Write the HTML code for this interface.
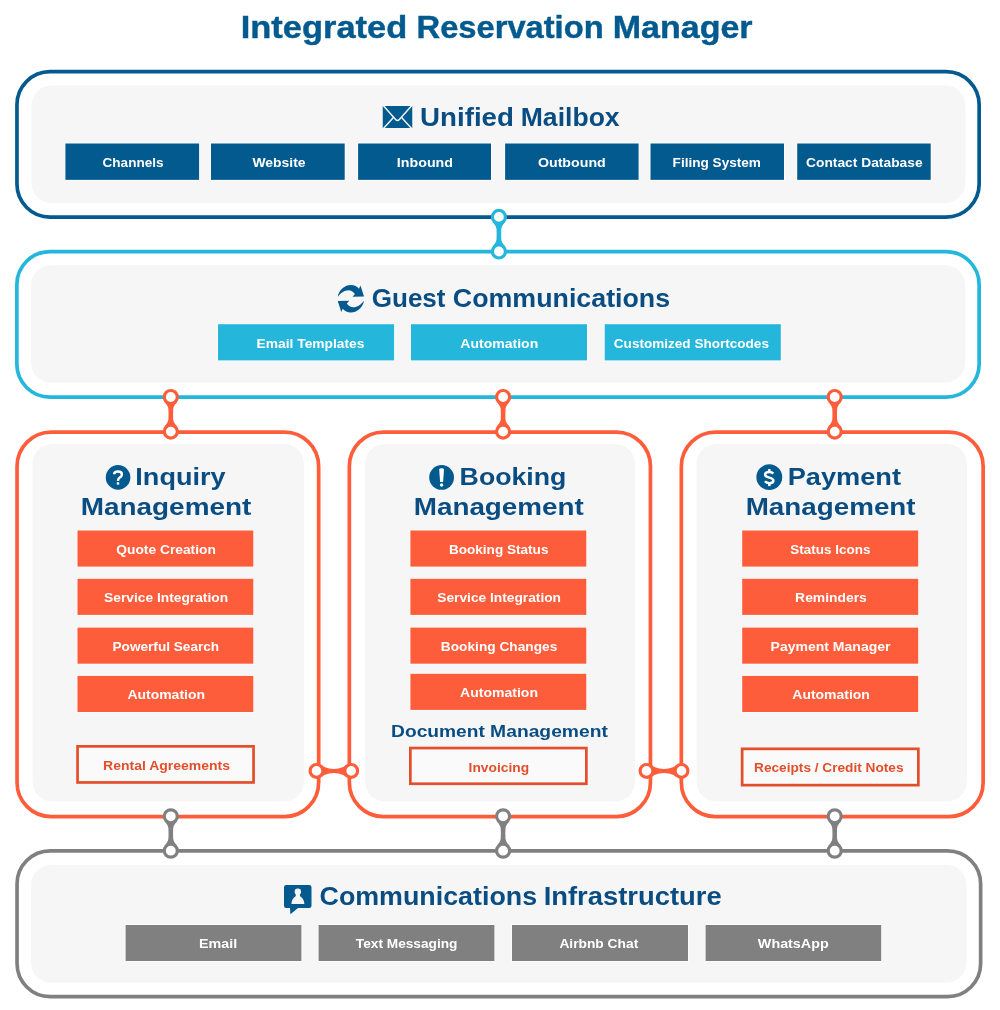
<!DOCTYPE html>
<html lang="en">
<head>
<meta charset="utf-8">
<title>Integrated Reservation Manager</title>
<style>
html,body{margin:0;padding:0;background:#fff;}
body{width:1000px;height:1010px;overflow:hidden;font-family:"Liberation Sans",sans-serif;}
svg{display:block;will-change:transform;}
text{font-family:"Liberation Sans",sans-serif;}
.b{font-weight:700;}
</style>
</head>
<body>
<svg width="1000" height="1010" viewBox="0 0 1000 1010">
<rect width="1000" height="1010" fill="#fff"/>
<text class="b" x="240.77" y="37.50" font-size="30.5" fill="#025a8f" stroke="#025a8f" stroke-width="0.4" textLength="166.41" lengthAdjust="spacingAndGlyphs">Integrated</text>
<text class="b" x="416.55" y="37.50" font-size="30.5" fill="#025a8f" stroke="#025a8f" stroke-width="0.4" textLength="187.06" lengthAdjust="spacingAndGlyphs">Reservation</text>
<text class="b" x="612.77" y="37.50" font-size="30.5" fill="#025a8f" stroke="#025a8f" stroke-width="0.4" textLength="139.84" lengthAdjust="spacingAndGlyphs">Manager</text>
<rect x="16.95" y="71.65" width="962.20" height="145.50" rx="33.15" fill="#fff" stroke="#025a8f" stroke-width="3.7"/>
<rect x="31.50" y="85.50" width="934.00" height="117.50" rx="20" fill="#f6f6f6"/>
<g><rect x="382.75" y="106" width="29.5" height="22" fill="#025a8f"/><path d="M383.2,105.6 L395.6,119.4 Q397.5,121.5 399.4,119.4 L411.8,105.6" fill="none" stroke="#f6f6f6" stroke-width="1.45" stroke-linejoin="round"/><path d="M383.4,128.6 L393.4,117.6 M411.6,128.6 L401.6,117.6" fill="none" stroke="#f6f6f6" stroke-width="1.45"/></g>
<text class="b" x="420.13" y="125.70" font-size="24.9" fill="#0a4d83" textLength="93.80" lengthAdjust="spacingAndGlyphs">Unified</text>
<text class="b" x="520.73" y="125.70" font-size="24.9" fill="#0a4d83" textLength="98.95" lengthAdjust="spacingAndGlyphs">Mailbox</text>
<rect x="65.40" y="143.50" width="133.70" height="36.35" fill="#025a8f" stroke="#fff" stroke-opacity=".75" stroke-width="1.8" paint-order="stroke"/>
<rect x="211.00" y="143.50" width="133.70" height="36.35" fill="#025a8f" stroke="#fff" stroke-opacity=".75" stroke-width="1.8" paint-order="stroke"/>
<rect x="358.10" y="143.50" width="132.90" height="36.35" fill="#025a8f" stroke="#fff" stroke-opacity=".75" stroke-width="1.8" paint-order="stroke"/>
<rect x="505.10" y="143.50" width="133.50" height="36.35" fill="#025a8f" stroke="#fff" stroke-opacity=".75" stroke-width="1.8" paint-order="stroke"/>
<rect x="650.50" y="143.50" width="133.50" height="36.35" fill="#025a8f" stroke="#fff" stroke-opacity=".75" stroke-width="1.8" paint-order="stroke"/>
<rect x="797.20" y="143.50" width="133.50" height="36.35" fill="#025a8f" stroke="#fff" stroke-opacity=".75" stroke-width="1.8" paint-order="stroke"/>
<text class="b" x="102.57" y="167.00" font-size="13.5" fill="#fff" textLength="60.99" lengthAdjust="spacingAndGlyphs">Channels</text>
<text class="b" x="252.41" y="167.00" font-size="13.5" fill="#fff" textLength="53.16" lengthAdjust="spacingAndGlyphs">Website</text>
<text class="b" x="396.81" y="167.00" font-size="13.5" fill="#fff" textLength="56.25" lengthAdjust="spacingAndGlyphs">Inbound</text>
<text class="b" x="537.93" y="167.00" font-size="13.5" fill="#fff" textLength="67.81" lengthAdjust="spacingAndGlyphs">Outbound</text>
<text class="b" x="672.64" y="167.00" font-size="13.5" fill="#fff" textLength="88.31" lengthAdjust="spacingAndGlyphs">Filing System</text>
<text class="b" x="806.01" y="167.00" font-size="13.5" fill="#fff" textLength="116.63" lengthAdjust="spacingAndGlyphs">Contact Database</text>
<rect x="16.85" y="251.55" width="962.30" height="145.60" rx="33.15" fill="#fff" stroke="#25b7db" stroke-width="3.7"/>
<rect x="31.00" y="265.30" width="934.30" height="117.20" rx="20" fill="#f6f6f6"/>
<g transform="translate(330,278) scale(0.05)" fill="#025a8f"><path d="M155,375 C178,235 300,138 420,140 C485,141 545,170 580,215 L610,150 L680,370 L450,375 L500,320 C460,270 420,243 370,243 C290,243 210,300 155,375 Z"/><path d="M155,375 C178,235 300,138 420,140 C485,141 545,170 580,215 L610,150 L680,370 L450,375 L500,320 C460,270 420,243 370,243 C290,243 210,300 155,375 Z" transform="rotate(180 417.5 415)"/></g>
<text class="b" x="371.74" y="306.60" font-size="24.9" fill="#0a4d83" textLength="73.78" lengthAdjust="spacingAndGlyphs">Guest</text>
<text class="b" x="452.86" y="306.60" font-size="24.9" fill="#0a4d83" textLength="217.26" lengthAdjust="spacingAndGlyphs">Communications</text>
<rect x="218.00" y="324.20" width="176.10" height="36.20" fill="#25b7db" stroke="#fff" stroke-opacity=".75" stroke-width="1.8" paint-order="stroke"/>
<rect x="411.00" y="324.20" width="176.00" height="36.20" fill="#25b7db" stroke="#fff" stroke-opacity=".75" stroke-width="1.8" paint-order="stroke"/>
<rect x="604.70" y="324.20" width="176.10" height="36.20" fill="#25b7db" stroke="#fff" stroke-opacity=".75" stroke-width="1.8" paint-order="stroke"/>
<text class="b" x="256.63" y="347.75" font-size="13.5" fill="#fff" textLength="107.79" lengthAdjust="spacingAndGlyphs">Email Templates</text>
<text class="b" x="460.30" y="347.75" font-size="13.5" fill="#fff" textLength="77.94" lengthAdjust="spacingAndGlyphs">Automation</text>
<text class="b" x="613.83" y="347.75" font-size="13.5" fill="#fff" textLength="155.13" lengthAdjust="spacingAndGlyphs">Customized Shortcodes</text>
<rect x="17.05" y="432.15" width="301.60" height="384.50" rx="34.15" fill="#fff" stroke="#fe5d3b" stroke-width="3.7"/>
<rect x="32.50" y="444.00" width="271.50" height="357.50" rx="20" fill="#f6f6f6"/>
<rect x="349.35" y="432.15" width="301.10" height="384.50" rx="34.15" fill="#fff" stroke="#fe5d3b" stroke-width="3.7"/>
<rect x="365.00" y="444.00" width="270.00" height="357.50" rx="20" fill="#f6f6f6"/>
<rect x="681.35" y="432.15" width="301.80" height="384.50" rx="34.15" fill="#fff" stroke="#fe5d3b" stroke-width="3.7"/>
<rect x="696.50" y="444.00" width="270.50" height="357.50" rx="20" fill="#f6f6f6"/>
<circle cx="118.05" cy="477.4" r="12.3" fill="#025a8f"/>
<path d="M114.1,474.3 C114.1,472.3 115.8,471.5 118,471.5 C120.3,471.5 121.9,472.6 121.9,474.4 C121.9,476 120.8,476.7 119.6,477.6 C118.5,478.4 118,479 118,481" fill="none" stroke="#fff" stroke-width="2.4"/><rect x="116.75" y="482.3" width="2.5" height="2.3" fill="#fff"/>
<text class="b" x="135.35" y="485.10" font-size="24.0" fill="#0a4d83" textLength="90.19" lengthAdjust="spacingAndGlyphs">Inquiry</text>
<text class="b" x="80.76" y="514.70" font-size="24.0" fill="#0a4d83" textLength="170.56" lengthAdjust="spacingAndGlyphs">Management</text>
<circle cx="441.6" cy="477.4" r="12.4" fill="#025a8f"/>
<path d="M439.2,469.6 Q439.2,468.2 441.6,468.2 Q444,468.2 444,469.6 L443.1,482 L440.1,482 Z" fill="#fff"/><circle cx="441.6" cy="485" r="1.7" fill="#fff"/>
<text class="b" x="459.63" y="485.10" font-size="24.0" fill="#0a4d83" textLength="106.66" lengthAdjust="spacingAndGlyphs">Booking</text>
<text class="b" x="413.77" y="514.70" font-size="24.0" fill="#0a4d83" textLength="170.01" lengthAdjust="spacingAndGlyphs">Management</text>
<circle cx="769.3" cy="477.2" r="12.9" fill="#025a8f"/>
<path d="M773.3,473.7 C772.3,472.6 771,472.1 769.3,472.1 C766.8,472.1 765.1,473.2 765.1,474.8 C765.1,476.6 767,477.1 769.3,477.6 C771.8,478.2 773.4,478.8 773.4,480.5 C773.4,482.2 771.8,483.2 769.4,483.2 C767.5,483.2 766,482.6 764.9,481.3" fill="none" stroke="#fff" stroke-width="2.5"/><rect x="768.1" y="469" width="2.5" height="2.6" fill="#fff"/><rect x="768.1" y="483.6" width="2.5" height="2.5" fill="#fff"/>
<text class="b" x="787.68" y="485.10" font-size="24.0" fill="#0a4d83" textLength="113.30" lengthAdjust="spacingAndGlyphs">Payment</text>
<text class="b" x="745.65" y="514.70" font-size="24.0" fill="#0a4d83" textLength="169.95" lengthAdjust="spacingAndGlyphs">Management</text>
<rect x="77.50" y="530.50" width="175.80" height="36.10" fill="#fe5d3b" stroke="#fff" stroke-opacity=".75" stroke-width="1.8" paint-order="stroke"/>
<text class="b" x="116.29" y="554.00" font-size="13.5" fill="#fff" textLength="99.59" lengthAdjust="spacingAndGlyphs">Quote Creation</text>
<rect x="77.50" y="578.80" width="175.80" height="36.10" fill="#fe5d3b" stroke="#fff" stroke-opacity=".75" stroke-width="1.8" paint-order="stroke"/>
<text class="b" x="104.04" y="602.30" font-size="13.5" fill="#fff" textLength="124.08" lengthAdjust="spacingAndGlyphs">Service Integration</text>
<rect x="77.50" y="627.60" width="175.80" height="36.10" fill="#fe5d3b" stroke="#fff" stroke-opacity=".75" stroke-width="1.8" paint-order="stroke"/>
<text class="b" x="112.56" y="651.10" font-size="13.5" fill="#fff" textLength="106.59" lengthAdjust="spacingAndGlyphs">Powerful Search</text>
<rect x="77.50" y="675.90" width="175.80" height="36.10" fill="#fe5d3b" stroke="#fff" stroke-opacity=".75" stroke-width="1.8" paint-order="stroke"/>
<text class="b" x="127.43" y="699.40" font-size="13.5" fill="#fff" textLength="77.55" lengthAdjust="spacingAndGlyphs">Automation</text>
<rect x="410.40" y="530.50" width="175.90" height="36.10" fill="#fe5d3b" stroke="#fff" stroke-opacity=".75" stroke-width="1.8" paint-order="stroke"/>
<text class="b" x="448.93" y="554.00" font-size="13.5" fill="#fff" textLength="99.54" lengthAdjust="spacingAndGlyphs">Booking Status</text>
<rect x="410.40" y="578.80" width="175.90" height="36.10" fill="#fe5d3b" stroke="#fff" stroke-opacity=".75" stroke-width="1.8" paint-order="stroke"/>
<text class="b" x="437.25" y="602.30" font-size="13.5" fill="#fff" textLength="123.76" lengthAdjust="spacingAndGlyphs">Service Integration</text>
<rect x="410.40" y="627.60" width="175.90" height="36.10" fill="#fe5d3b" stroke="#fff" stroke-opacity=".75" stroke-width="1.8" paint-order="stroke"/>
<text class="b" x="440.86" y="651.10" font-size="13.5" fill="#fff" textLength="116.39" lengthAdjust="spacingAndGlyphs">Booking Changes</text>
<rect x="410.40" y="673.80" width="175.90" height="36.10" fill="#fe5d3b" stroke="#fff" stroke-opacity=".75" stroke-width="1.8" paint-order="stroke"/>
<text class="b" x="460.11" y="697.30" font-size="13.5" fill="#fff" textLength="77.87" lengthAdjust="spacingAndGlyphs">Automation</text>
<rect x="742.20" y="530.50" width="176.00" height="36.10" fill="#fe5d3b" stroke="#fff" stroke-opacity=".75" stroke-width="1.8" paint-order="stroke"/>
<text class="b" x="790.36" y="554.00" font-size="13.5" fill="#fff" textLength="80.05" lengthAdjust="spacingAndGlyphs">Status Icons</text>
<rect x="742.20" y="578.80" width="176.00" height="36.10" fill="#fe5d3b" stroke="#fff" stroke-opacity=".75" stroke-width="1.8" paint-order="stroke"/>
<text class="b" x="795.11" y="602.30" font-size="13.5" fill="#fff" textLength="71.70" lengthAdjust="spacingAndGlyphs">Reminders</text>
<rect x="742.20" y="627.60" width="176.00" height="36.10" fill="#fe5d3b" stroke="#fff" stroke-opacity=".75" stroke-width="1.8" paint-order="stroke"/>
<text class="b" x="770.61" y="651.10" font-size="13.5" fill="#fff" textLength="119.86" lengthAdjust="spacingAndGlyphs">Payment Manager</text>
<rect x="742.20" y="675.90" width="176.00" height="36.10" fill="#fe5d3b" stroke="#fff" stroke-opacity=".75" stroke-width="1.8" paint-order="stroke"/>
<text class="b" x="792.34" y="699.40" font-size="13.5" fill="#fff" textLength="77.54" lengthAdjust="spacingAndGlyphs">Automation</text>
<rect x="77.55" y="746.35" width="176.00" height="36.10" fill="#fafafa" stroke="#e34e2b" stroke-width="2.7"/>
<text class="b" x="103.14" y="769.50" font-size="13.5" fill="#e34e2b" textLength="126.80" lengthAdjust="spacingAndGlyphs">Rental Agreements</text>
<text class="b" x="391.10" y="737.20" font-size="17" fill="#0a4d83" textLength="93.73" lengthAdjust="spacingAndGlyphs">Document</text>
<text class="b" x="490.14" y="737.20" font-size="17" fill="#0a4d83" textLength="117.76" lengthAdjust="spacingAndGlyphs">Management</text>
<rect x="410.35" y="748.05" width="176.00" height="35.70" fill="#fafafa" stroke="#e34e2b" stroke-width="2.7"/>
<text class="b" x="468.59" y="771.70" font-size="13.5" fill="#e34e2b" textLength="60.53" lengthAdjust="spacingAndGlyphs">Invoicing</text>
<rect x="742.15" y="748.85" width="176.20" height="36.30" fill="#fafafa" stroke="#e34e2b" stroke-width="2.7"/>
<text class="b" x="754.09" y="772.20" font-size="13.5" fill="#e34e2b" textLength="149.42" lengthAdjust="spacingAndGlyphs">Receipts / Credit Notes</text>
<rect x="17.05" y="850.85" width="963.60" height="145.80" rx="33.15" fill="#fff" stroke="#808080" stroke-width="3.7"/>
<rect x="31.00" y="865.00" width="935.50" height="117.50" rx="20" fill="#f6f6f6"/>
<g><path d="M286.2,885 H309.3 Q311.5,885 311.5,887.2 V905.8 Q311.5,908 309.3,908 H298 L290.4,914.2 L290,908 H286.2 Q284,908 284,905.8 V887.2 Q284,885 286.2,885 Z" fill="#025a8f"/><circle cx="297.85" cy="891.8" r="3.2" fill="#f6f6f6"/><path d="M291.4,904.1 C291.4,900 293.4,897.6 295.6,896.2 L296,894 L299.7,894 L300.1,896.2 C302.3,897.6 304.4,900 304.4,904.1 Z" fill="#f6f6f6"/></g>
<text class="b" x="319.53" y="905.00" font-size="24.9" fill="#0a4d83" textLength="217.57" lengthAdjust="spacingAndGlyphs">Communications</text>
<text class="b" x="543.68" y="905.00" font-size="24.9" fill="#0a4d83" textLength="177.94" lengthAdjust="spacingAndGlyphs">Infrastructure</text>
<rect x="125.60" y="925.00" width="175.80" height="36.00" fill="#808080" stroke="#fff" stroke-opacity=".75" stroke-width="1.8" paint-order="stroke"/>
<rect x="318.60" y="925.00" width="175.80" height="36.00" fill="#808080" stroke="#fff" stroke-opacity=".75" stroke-width="1.8" paint-order="stroke"/>
<rect x="512.00" y="925.00" width="176.00" height="36.00" fill="#808080" stroke="#fff" stroke-opacity=".75" stroke-width="1.8" paint-order="stroke"/>
<rect x="705.60" y="925.00" width="175.60" height="36.00" fill="#808080" stroke="#fff" stroke-opacity=".75" stroke-width="1.8" paint-order="stroke"/>
<text class="b" x="199.09" y="948.00" font-size="13.5" fill="#fff" textLength="38.19" lengthAdjust="spacingAndGlyphs">Email</text>
<text class="b" x="355.84" y="948.00" font-size="13.5" fill="#fff" textLength="101.62" lengthAdjust="spacingAndGlyphs">Text Messaging</text>
<text class="b" x="559.41" y="948.00" font-size="13.5" fill="#fff" textLength="78.83" lengthAdjust="spacingAndGlyphs">Airbnb Chat</text>
<text class="b" x="757.86" y="948.00" font-size="13.5" fill="#fff" textLength="70.82" lengthAdjust="spacingAndGlyphs">WhatsApp</text>
<path d="M492.60,221.70 C494.30,224.20 496.20,225.90 496.50,228.90 L496.65,234.20 L496.50,239.50 C496.20,242.50 494.30,244.20 492.60,246.70 L505.20,246.70 C503.50,244.20 501.60,242.50 501.30,239.50 L501.15,234.20 L501.30,228.90 C501.60,225.90 503.50,224.20 505.20,221.70 Z" fill="#25b7db"/>
<circle cx="498.90" cy="216.90" r="6.5" fill="#fff" stroke="#25b7db" stroke-width="3.2"/>
<circle cx="498.90" cy="251.50" r="6.5" fill="#fff" stroke="#25b7db" stroke-width="3.2"/>
<path d="M164.50,401.80 C166.20,404.30 168.10,406.00 168.40,409.00 L168.55,414.30 L168.40,419.60 C168.10,422.60 166.20,424.30 164.50,426.80 L177.10,426.80 C175.40,424.30 173.50,422.60 173.20,419.60 L173.05,414.30 L173.20,409.00 C173.50,406.00 175.40,404.30 177.10,401.80 Z" fill="#fe5d3b"/>
<circle cx="170.80" cy="397.00" r="6.5" fill="#fff" stroke="#fe5d3b" stroke-width="3.2"/>
<circle cx="170.80" cy="431.60" r="6.5" fill="#fff" stroke="#fe5d3b" stroke-width="3.2"/>
<path d="M496.80,401.80 C498.50,404.30 500.40,406.00 500.70,409.00 L500.85,414.30 L500.70,419.60 C500.40,422.60 498.50,424.30 496.80,426.80 L509.40,426.80 C507.70,424.30 505.80,422.60 505.50,419.60 L505.35,414.30 L505.50,409.00 C505.80,406.00 507.70,404.30 509.40,401.80 Z" fill="#fe5d3b"/>
<circle cx="503.10" cy="397.00" r="6.5" fill="#fff" stroke="#fe5d3b" stroke-width="3.2"/>
<circle cx="503.10" cy="431.60" r="6.5" fill="#fff" stroke="#fe5d3b" stroke-width="3.2"/>
<path d="M828.40,401.80 C830.10,404.30 832.00,406.00 832.30,409.00 L832.45,414.30 L832.30,419.60 C832.00,422.60 830.10,424.30 828.40,426.80 L841.00,426.80 C839.30,424.30 837.40,422.60 837.10,419.60 L836.95,414.30 L837.10,409.00 C837.40,406.00 839.30,404.30 841.00,401.80 Z" fill="#fe5d3b"/>
<circle cx="834.70" cy="397.00" r="6.5" fill="#fff" stroke="#fe5d3b" stroke-width="3.2"/>
<circle cx="834.70" cy="431.60" r="6.5" fill="#fff" stroke="#fe5d3b" stroke-width="3.2"/>
<path d="M321.50,764.70 C323.50,766.70 327.00,768.60 333.85,768.90 C340.70,768.60 344.20,766.70 346.20,764.70 L346.20,777.10 C344.20,775.10 340.70,773.20 333.85,772.90 C327.00,773.20 323.50,775.10 321.50,777.10 Z" fill="#fe5d3b"/>
<circle cx="316.50" cy="770.90" r="6.4" fill="#fff" stroke="#fe5d3b" stroke-width="3.2"/>
<circle cx="351.20" cy="770.90" r="6.4" fill="#fff" stroke="#fe5d3b" stroke-width="3.2"/>
<path d="M651.50,764.70 C653.50,766.70 657.00,768.60 664.00,768.90 C671.00,768.60 674.50,766.70 676.50,764.70 L676.50,777.10 C674.50,775.10 671.00,773.20 664.00,772.90 C657.00,773.20 653.50,775.10 651.50,777.10 Z" fill="#fe5d3b"/>
<circle cx="646.50" cy="770.90" r="6.4" fill="#fff" stroke="#fe5d3b" stroke-width="3.2"/>
<circle cx="681.50" cy="770.90" r="6.4" fill="#fff" stroke="#fe5d3b" stroke-width="3.2"/>
<path d="M164.50,821.10 C166.20,823.60 168.10,825.30 168.40,828.30 L168.55,833.50 L168.40,838.70 C168.10,841.70 166.20,843.40 164.50,845.90 L177.10,845.90 C175.40,843.40 173.50,841.70 173.20,838.70 L173.05,833.50 L173.20,828.30 C173.50,825.30 175.40,823.60 177.10,821.10 Z" fill="#808080"/>
<circle cx="170.80" cy="816.30" r="6.5" fill="#fff" stroke="#808080" stroke-width="3.2"/>
<circle cx="170.80" cy="850.70" r="6.5" fill="#fff" stroke="#808080" stroke-width="3.2"/>
<path d="M496.80,821.10 C498.50,823.60 500.40,825.30 500.70,828.30 L500.85,833.50 L500.70,838.70 C500.40,841.70 498.50,843.40 496.80,845.90 L509.40,845.90 C507.70,843.40 505.80,841.70 505.50,838.70 L505.35,833.50 L505.50,828.30 C505.80,825.30 507.70,823.60 509.40,821.10 Z" fill="#808080"/>
<circle cx="503.10" cy="816.30" r="6.5" fill="#fff" stroke="#808080" stroke-width="3.2"/>
<circle cx="503.10" cy="850.70" r="6.5" fill="#fff" stroke="#808080" stroke-width="3.2"/>
<path d="M828.40,821.10 C830.10,823.60 832.00,825.30 832.30,828.30 L832.45,833.50 L832.30,838.70 C832.00,841.70 830.10,843.40 828.40,845.90 L841.00,845.90 C839.30,843.40 837.40,841.70 837.10,838.70 L836.95,833.50 L837.10,828.30 C837.40,825.30 839.30,823.60 841.00,821.10 Z" fill="#808080"/>
<circle cx="834.70" cy="816.30" r="6.5" fill="#fff" stroke="#808080" stroke-width="3.2"/>
<circle cx="834.70" cy="850.70" r="6.5" fill="#fff" stroke="#808080" stroke-width="3.2"/>
</svg>
</body>
</html>
